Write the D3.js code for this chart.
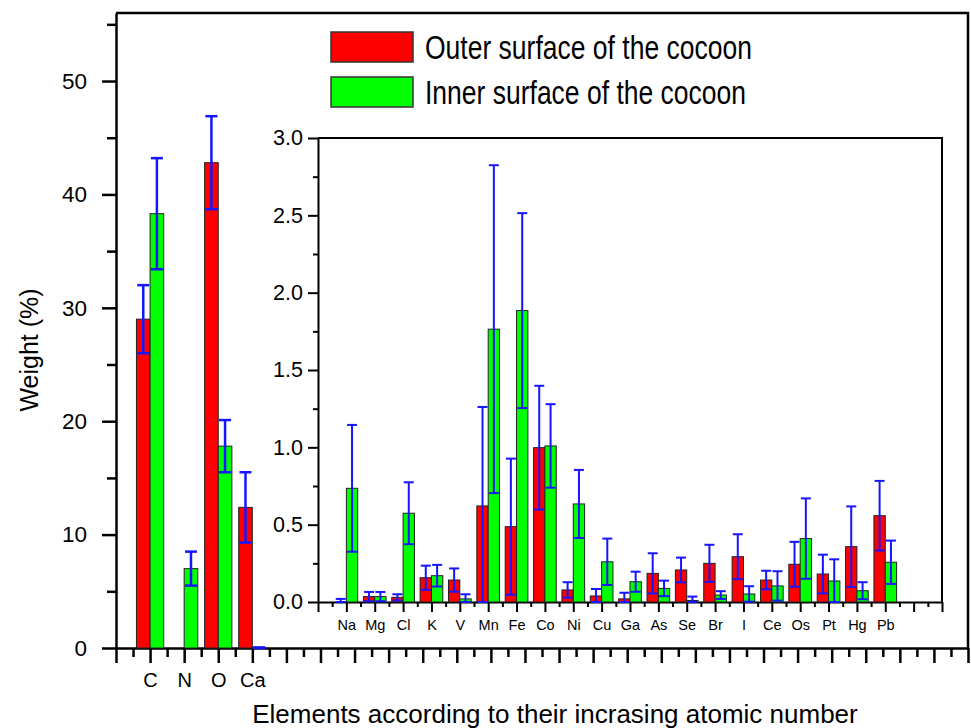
<!DOCTYPE html>
<html>
<head>
<meta charset="utf-8">
<script src="https://cdn.jsdelivr.net/npm/d3@7"></script>
<style>
    body { margin: 0; background: #fff; }
    svg { display: block; font-family: Arial, "Liberation Sans", sans-serif; }
    .axis path, .axis line { stroke: #000; }
    .axis text { fill: #000; }
</style>
</head>
<body>
<svg id="chart" width="971" height="728"></svg>
<script>
// main plot (major elements)
let mainCats = ["C", "N", "O", "Ca"];
let mainOuter = [29.0, 0, 42.8, 12.4];
let mainOuterErr = [3.0, 0, 4.1, 3.1];
let mainInner = [38.3, 7.0, 17.8, 0.02];
let mainInnerErr = [4.9, 1.5, 2.3, 0.03];
let mainYTicks = [0, 10, 20, 30, 40, 50];

// inset (trace elements)
let insetCats = ["Na", "Mg", "Cl", "K", "V", "Mn", "Fe", "Co", "Ni", "Cu",
    "Ga", "As", "Se", "Br", "I", "Ce", "Os", "Pt", "Hg", "Pb"];
let insetOuter = [0.0, 0.035, 0.03, 0.157, 0.142, 0.621, 0.487, 0.998, 0.078, 0.039,
    0.02, 0.185, 0.207, 0.25, 0.293, 0.142, 0.244, 0.181, 0.358, 0.558];
let insetOuterErr = [0.02, 0.03, 0.02, 0.078, 0.075, 0.64, 0.44, 0.40, 0.05, 0.045,
    0.04, 0.13, 0.08, 0.12, 0.145, 0.06, 0.145, 0.125, 0.26, 0.225];
let insetInner = [0.735, 0.035, 0.574, 0.17, 0.02, 1.764, 1.884, 1.009, 0.634, 0.26,
    0.131, 0.088, 0.01, 0.045, 0.052, 0.104, 0.41, 0.136, 0.073, 0.257];
let insetInnerErr = [0.41, 0.03, 0.2, 0.07, 0.03, 1.06, 0.63, 0.27, 0.22, 0.15,
    0.065, 0.05, 0.025, 0.025, 0.05, 0.095, 0.26, 0.14, 0.055, 0.14];
let insetYTicks = [0, 0.5, 1.0, 1.5, 2.0, 2.5, 3.0];

let seriesNames = ["Outer surface of the cocoon", "Inner surface of the cocoon"];
let seriesColors = ["#ff0000", "#00ff00"];

let svg = d3.select("#chart");
svg.append("rect").attr("width", 971).attr("height", 728).attr("fill", "#fff");

// ---- main axes ----
let mx = d3.scaleLinear().domain([0, 25]).range([116, 968]);
let my = d3.scaleLinear().domain([0, 56]).range([648, 13]);

// frame top / right
svg.append("path")
    .attr("d", "M" + mx(0) + "," + my(56) + "H" + mx(25) + "V" + my(0))
    .attr("fill", "none").attr("stroke", "#000").attr("stroke-width", 2.5);

let halfTicks = function (n) {
    return d3.range(0, n).map(v => v + 0.5);
};

// y axis main
svg.append("g").attr("class", "axis")
    .attr("transform", "translate(" + mx(0) + ",0)")
    .call(d3.axisLeft(my).tickValues(d3.range(5, 56, 10)).tickSize(9).tickFormat("").tickSizeOuter(0))
    .call(g => g.selectAll("line").attr("stroke-width", 2.5));
svg.append("g").attr("class", "axis")
    .attr("transform", "translate(" + mx(0) + ",0)")
    .call(d3.axisLeft(my).tickValues(mainYTicks).tickSize(14).tickPadding(15).tickSizeOuter(0))
    .call(g => g.select(".domain").attr("stroke-width", 2.5))
    .call(g => g.selectAll("line").attr("stroke-width", 2.5))
    .call(g => g.selectAll("text").attr("font-size", 22.5));

// x axis main
svg.append("g").attr("class", "axis")
    .attr("transform", "translate(0," + my(0) + ")")
    .call(d3.axisBottom(mx).tickValues(halfTicks(25)).tickSize(9).tickFormat("").tickSizeOuter(0))
    .call(g => g.selectAll("line").attr("stroke-width", 2.5));
svg.append("g").attr("class", "axis")
    .attr("transform", "translate(0," + my(0) + ")")
    .call(d3.axisBottom(mx).tickValues(d3.range(0, 26)).tickSize(15).tickPadding(10).tickSizeOuter(0)
        .tickFormat(d => (d >= 1 && d <= mainCats.length) ? mainCats[d - 1] : ""))
    .call(g => g.select(".domain").attr("stroke-width", 2.5))
    .call(g => g.selectAll("line").attr("stroke-width", 2.5))
    .call(g => g.selectAll("text").attr("font-size", 20));

// bars + error bars
function drawBars(g, xs, ys, vals, errs, offset, color, capW, lw) {
    let bw = 0.4;
    let d = vals.map((v, i) => ({i: i + 1, v: v, e: errs[i]}));
    g.selectAll(null).data(d.filter(o => o.v > 0)).enter().append("rect")
        .attr("x", o => xs(o.i + offset))
        .attr("width", xs(bw) - xs(0))
        .attr("y", o => ys(o.v))
        .attr("height", o => ys(0) - ys(o.v))
        .attr("fill", color)
        .attr("stroke", "#222").attr("stroke-width", 1);
    let eb = d.filter(o => o.e > 0);
    let cx = o => xs(o.i + offset + bw / 2);
    let lo = o => ys(Math.max(0, o.v - o.e));
    let hi = o => ys(o.v + o.e);
    g.selectAll(null).data(eb).enter().append("line")
        .attr("x1", cx).attr("x2", cx).attr("y1", lo).attr("y2", hi)
        .attr("stroke", "#1515ff").attr("stroke-width", lw);
    [lo, hi].forEach(function (f) {
        g.selectAll(null).data(eb).enter().append("line")
            .attr("x1", o => cx(o) - capW / 2).attr("x2", o => cx(o) + capW / 2)
            .attr("y1", f).attr("y2", f)
            .attr("stroke", "#1515ff").attr("stroke-width", lw);
    });
}

let mainBars = svg.append("g");
drawBars(mainBars, mx, my, mainOuter, mainOuterErr, -0.4, seriesColors[0], 12, 2.5);
drawBars(mainBars, mx, my, mainInner, mainInnerErr, 0, seriesColors[1], 12, 2.5);

// ---- inset ----
let ix = d3.scaleLinear().domain([0, 22]).range([318, 942]);
let iy = d3.scaleLinear().domain([0, 3]).range([602, 138]);

svg.append("rect")
    .attr("x", ix(0)).attr("y", iy(3)).attr("width", ix(22) - ix(0)).attr("height", iy(0) - iy(3))
    .attr("fill", "#fff");
svg.append("path")
    .attr("d", "M" + ix(0) + "," + iy(3) + "H" + ix(22) + "V" + iy(0))
    .attr("fill", "none").attr("stroke", "#000").attr("stroke-width", 2);

svg.append("g").attr("class", "axis")
    .attr("transform", "translate(" + ix(0) + ",0)")
    .call(d3.axisLeft(iy).tickValues([0.25, 0.75, 1.25, 1.75, 2.25, 2.75]).tickSize(5).tickFormat("").tickSizeOuter(0))
    .call(g => g.selectAll("line").attr("stroke-width", 2));
svg.append("g").attr("class", "axis")
    .attr("transform", "translate(" + ix(0) + ",0)")
    .call(d3.axisLeft(iy).tickValues(insetYTicks).tickSize(10).tickPadding(5).tickSizeOuter(0)
        .tickFormat(d3.format(".1f")))
    .call(g => g.select(".domain").attr("stroke-width", 2))
    .call(g => g.selectAll("line").attr("stroke-width", 2))
    .call(g => g.selectAll("text").attr("font-size", 21.5));

svg.append("g").attr("class", "axis")
    .attr("transform", "translate(0," + iy(0) + ")")
    .call(d3.axisBottom(ix).tickValues(halfTicks(22)).tickSize(5).tickFormat("").tickSizeOuter(0))
    .call(g => g.selectAll("line").attr("stroke-width", 2));
svg.append("g").attr("class", "axis")
    .attr("transform", "translate(0," + iy(0) + ")")
    .call(d3.axisBottom(ix).tickValues(d3.range(0, 23)).tickSize(10).tickPadding(8).tickSizeOuter(0)
        .tickFormat(d => (d >= 1 && d <= insetCats.length) ? insetCats[d - 1] : ""))
    .call(g => g.select(".domain").attr("stroke-width", 2))
    .call(g => g.selectAll("line").attr("stroke-width", 2))
    .call(g => g.selectAll("text").attr("font-size", 14.5));

let insetBars = svg.append("g");
drawBars(insetBars, ix, iy, insetOuter, insetOuterErr, -0.4, seriesColors[0], 10, 2);
drawBars(insetBars, ix, iy, insetInner, insetInnerErr, 0, seriesColors[1], 10, 2);

// ---- legend ----
let legend = svg.append("g");
seriesNames.forEach(function (name, i) {
    let y0 = 32 + i * 45;
    legend.append("rect")
        .attr("x", 331).attr("y", y0).attr("width", 82).attr("height", 30)
        .attr("fill", seriesColors[i]).attr("stroke", "#333").attr("stroke-width", 1.5);
    legend.append("text")
        .attr("transform", "translate(425," + (y0 + 27) + ") scale(1,1.22)")
        .attr("font-size", 26.5).attr("fill", "#000")
        .text(name);
});

// ---- axis titles ----
svg.append("text")
    .attr("x", 555).attr("y", 723)
    .attr("text-anchor", "middle").attr("font-size", 26).attr("fill", "#000")
    .text("Elements according to their incrasing atomic number");
svg.append("text")
    .attr("transform", "translate(38,350) rotate(-90)")
    .attr("text-anchor", "middle").attr("font-size", 25).attr("fill", "#000")
    .text("Weight (%)");
</script>
</body>
</html>
